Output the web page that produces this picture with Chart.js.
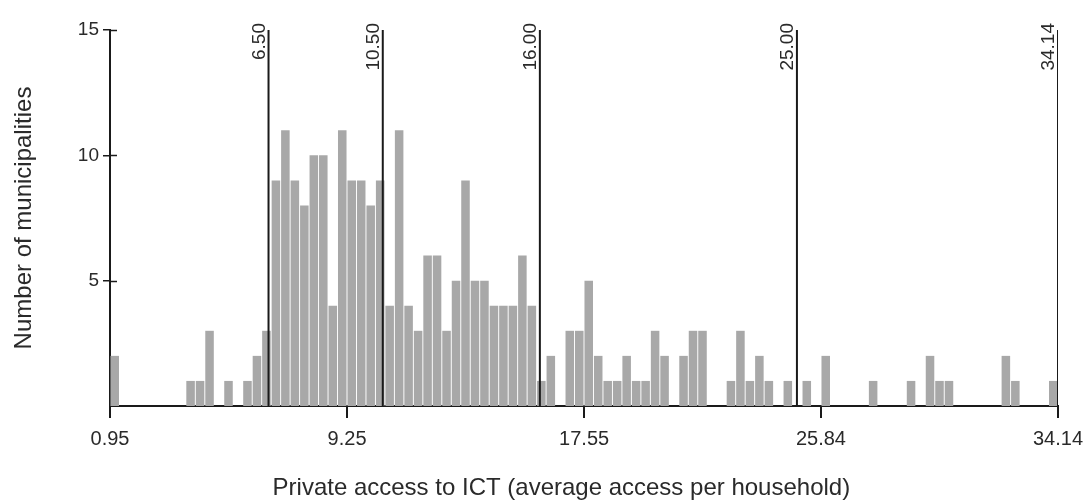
<!DOCTYPE html>
<html>
<head>
<meta charset="utf-8">
<script src="https://cdn.jsdelivr.net/npm/chart.js@4/dist/chart.umd.min.js"></script>
<style>
    html, body { margin: 0; padding: 0; background: #fff; }
    #wrap { width: 1090px; height: 501px; }
</style>
</head>
<body>
<div id="wrap"><canvas id="ict-chart"></canvas></div>
<script>
// histogram bins run from the min to the max value of the index
const binStart = 0.95
const binEnd = 34.14
const counts = [
    2, 0, 0, 0, 0, 0, 0, 0, 1, 1,
    3, 0, 1, 0, 1, 2, 3, 9, 11, 9,
    8, 10, 10, 4, 11, 9, 9, 8, 9, 4,
    11, 4, 3, 6, 6, 3, 5, 9, 5, 5,
    4, 4, 4, 6, 4, 1, 2, 0, 3, 3,
    5, 2, 1, 1, 2, 1, 1, 3, 2, 0,
    2, 3, 3, 0, 0, 1, 3, 1, 2, 1,
    0, 1, 0, 1, 0, 2, 0, 0, 0, 0,
    1, 0, 0, 0, 1, 0, 2, 1, 1, 0,
    0, 0, 0, 0, 2, 1, 0, 0, 0, 1
]
const cutPoints = [6.50, 10.50, 16.00, 25.00, 34.14]
const xTicks = [0.95, 9.25, 17.55, 25.84, 34.14]
const yTicks = [5, 10, 15]
const yMax = 15
const xTitle = 'Private access to ICT (average access per household)'
const yTitle = 'Number of municipalities'

const binWidth = (binEnd - binStart) / counts.length
const FONT = '"Liberation Sans", Arial, sans-serif'
const INK = '#1a1a1a'
const TEXT = '#2a2a2a'

// rotated value labels next to the cut lines, inner half of the y ticks, x title
const extras = {
    id: 'extras',
    afterDatasetsDraw: (chart) => {
        const { ctx, scales: { x, y } } = chart
        ctx.save()
        ctx.font = '19px ' + FONT
        ctx.fillStyle = TEXT
        ctx.textAlign = 'right'
        ctx.textBaseline = 'alphabetic'
        cutPoints.forEach(v => {
            ctx.save()
            ctx.translate(x.getPixelForValue(v) - 4, y.getPixelForValue(yMax) - 7)
            ctx.rotate(-Math.PI / 2)
            ctx.fillText(v.toFixed(2), 0, 0)
            ctx.restore()
        })
        ctx.strokeStyle = INK
        ctx.lineWidth = 1.5
        yTicks.forEach(v => {
            const py = Math.round(y.getPixelForValue(v)) + 0.5
            ctx.beginPath()
            ctx.moveTo(x.left, py)
            ctx.lineTo(x.left + 7, py)
            ctx.stroke()
        })
        // x title sits a little left of the plot centre, as in the source figure
        ctx.font = '24px ' + FONT
        ctx.textAlign = 'center'
        ctx.textBaseline = 'middle'
        ctx.fillText(xTitle, chart.width * 0.515, chart.height - 13)
        ctx.restore()
    }
}

const datasets = [
    {
        type: 'bar',
        data: counts.map((c, i) => ({ x: binStart + (i + 0.5) * binWidth, y: c })),
        backgroundColor: '#a8a8a8',
        borderWidth: 0,
        barPercentage: 0.9,
        categoryPercentage: 1,
        order: 2
    }
]
cutPoints.forEach(v => {
    datasets.push({
        type: 'line',
        data: [{ x: v, y: 0 }, { x: v, y: yMax }],
        borderColor: INK,
        borderWidth: 2,
        pointRadius: 0,
        order: 1
    })
})

Chart.defaults.font.family = FONT
Chart.defaults.color = TEXT

new Chart(document.getElementById('ict-chart'), {
    type: 'bar',
    data: { datasets },
    options: {
        responsive: true,
        maintainAspectRatio: false,
        animation: false,
        layout: { padding: { top: 30, right: 32, left: 0, bottom: 0 } },
        plugins: {
            legend: { display: false },
            tooltip: { enabled: false }
        },
        scales: {
            x: {
                type: 'linear',
                min: binStart,
                max: binEnd,
                offset: false,
                afterBuildTicks: (axis) => { axis.ticks = xTicks.map(v => ({ value: v })) },
                afterFit: (axis) => {
                    axis.height = 95
                    axis.paddingLeft = 0
                    axis.paddingRight = 0
                },
                ticks: {
                    autoSkip: false,
                    maxRotation: 0,
                    padding: 9,
                    font: { size: 20 },
                    callback: (v) => v.toFixed(2)
                },
                grid: { offset: false, drawOnChartArea: false, drawTicks: true, tickLength: 12, color: INK, lineWidth: 2 },
                border: { display: true, color: INK, width: 2 }
            },
            y: {
                min: 0,
                max: yMax,
                afterBuildTicks: (axis) => { axis.ticks = yTicks.map(v => ({ value: v })) },
                afterFit: (axis) => { axis.width = 110 },
                ticks: { padding: 4, font: { size: 19 } },
                grid: { drawOnChartArea: false, drawTicks: true, tickLength: 7, color: INK, lineWidth: 1.5 },
                border: { display: true, color: INK, width: 2 },
                title: {
                    display: true,
                    text: yTitle,
                    font: { size: 24 },
                    padding: { top: 10, bottom: 0 }
                }
            }
        }
    },
    plugins: [extras]
})
</script>
</body>
</html>
